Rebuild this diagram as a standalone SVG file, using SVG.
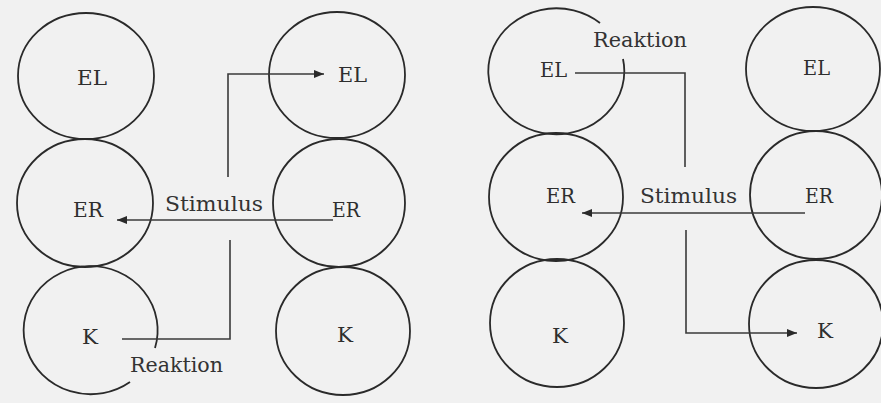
<svg xmlns="http://www.w3.org/2000/svg" width="881" height="403" viewBox="0 0 881 403">
  <style>
    .ring { fill: none; stroke: #2a2a2a; stroke-width: 1.8; }
    .lbl { font-family: "DejaVu Serif", "Liberation Serif", serif; font-size: 21px; fill: #2e2e2e; }
    .cap { font-family: "DejaVu Serif", "Liberation Serif", serif; font-size: 21px; fill: #333; }
    .wire { fill: none; stroke: #3a3a3a; stroke-width: 1.6; }
  </style>
  <defs>
    <marker id="tip" viewBox="0 0 10 8" refX="10" refY="4" markerWidth="10" markerHeight="8" markerUnits="userSpaceOnUse" orient="auto">
      <path d="M0,0 L10,4 L0,8 Z" fill="#2a2a2a"/>
    </marker>
  </defs>

  <rect width="881" height="403" fill="#f1f1f1"/>

  <!-- column 1 -->
  <g id="c1-EL">
    <ellipse class="ring" cx="86" cy="76" rx="68" ry="63"/>
    <text class="lbl" x="77" y="85" textLength="30" lengthAdjust="spacingAndGlyphs">EL</text>
  </g>
  <g id="c1-ER">
    <ellipse class="ring" cx="85" cy="203" rx="68" ry="64"/>
    <text class="lbl" x="73" y="217" textLength="30" lengthAdjust="spacingAndGlyphs">ER</text>
  </g>
  <g id="c1-K">
    <path class="ring" d="M155,348 A67,64 0 1 0 130,382"/>
    <text class="lbl" x="82" y="344" textLength="16" lengthAdjust="spacingAndGlyphs">K</text>
  </g>

  <!-- column 2 -->
  <g id="c2-EL">
    <ellipse class="ring" cx="337" cy="75" rx="68" ry="63"/>
    <text class="lbl" x="338" y="82" textLength="29" lengthAdjust="spacingAndGlyphs">EL</text>
  </g>
  <g id="c2-ER">
    <ellipse class="ring" cx="339" cy="203" rx="66" ry="64"/>
    <text class="lbl" x="332" y="217" textLength="28" lengthAdjust="spacingAndGlyphs">ER</text>
  </g>
  <g id="c2-K">
    <ellipse class="ring" cx="343" cy="331" rx="67" ry="64"/>
    <text class="lbl" x="337" y="342" textLength="16" lengthAdjust="spacingAndGlyphs">K</text>
  </g>

  <!-- column 3 -->
  <g id="c3-EL">
    <path class="ring" d="M600,23 A68,63 0 1 0 623,59"/>
    <text class="lbl" x="540" y="77" textLength="27" lengthAdjust="spacingAndGlyphs">EL</text>
  </g>
  <g id="c3-ER">
    <ellipse class="ring" cx="556" cy="197" rx="67" ry="64"/>
    <text class="lbl" x="546" y="203" textLength="29" lengthAdjust="spacingAndGlyphs">ER</text>
  </g>
  <g id="c3-K">
    <ellipse class="ring" cx="557" cy="323" rx="67" ry="64"/>
    <text class="lbl" x="552" y="343" textLength="16" lengthAdjust="spacingAndGlyphs">K</text>
  </g>

  <!-- column 4 -->
  <g id="c4-EL">
    <ellipse class="ring" cx="813" cy="69" rx="67" ry="62"/>
    <text class="lbl" x="803" y="75" textLength="27" lengthAdjust="spacingAndGlyphs">EL</text>
  </g>
  <g id="c4-ER">
    <ellipse class="ring" cx="816" cy="195" rx="66" ry="64"/>
    <text class="lbl" x="805" y="203" textLength="28" lengthAdjust="spacingAndGlyphs">ER</text>
  </g>
  <g id="c4-K">
    <ellipse class="ring" cx="816" cy="324" rx="67" ry="64"/>
    <text class="lbl" x="817" y="338" textLength="16" lengthAdjust="spacingAndGlyphs">K</text>
  </g>

  <!-- pathways between the columns -->
  <g id="connectors">
    <path class="wire" d="M228,177 V74 H324" marker-end="url(#tip)"/>
    <path class="wire" d="M333,220 H117" marker-end="url(#tip)"/>
    <path class="wire" d="M230,240 V339 H122"/>
    <path class="wire" d="M575,73 H685 V167"/>
    <path class="wire" d="M805,213 H582" marker-end="url(#tip)"/>
    <path class="wire" d="M686,230 V333 H797" marker-end="url(#tip)"/>
  </g>

  <g id="captions">
    <text class="cap" x="165" y="211" textLength="98" lengthAdjust="spacingAndGlyphs">Stimulus</text>
    <text class="cap" x="130" y="372" textLength="93" lengthAdjust="spacingAndGlyphs">Reaktion</text>
    <text class="cap" x="593" y="47" textLength="94" lengthAdjust="spacingAndGlyphs">Reaktion</text>
    <text class="cap" x="640" y="203" textLength="97" lengthAdjust="spacingAndGlyphs">Stimulus</text>
  </g>
</svg>
